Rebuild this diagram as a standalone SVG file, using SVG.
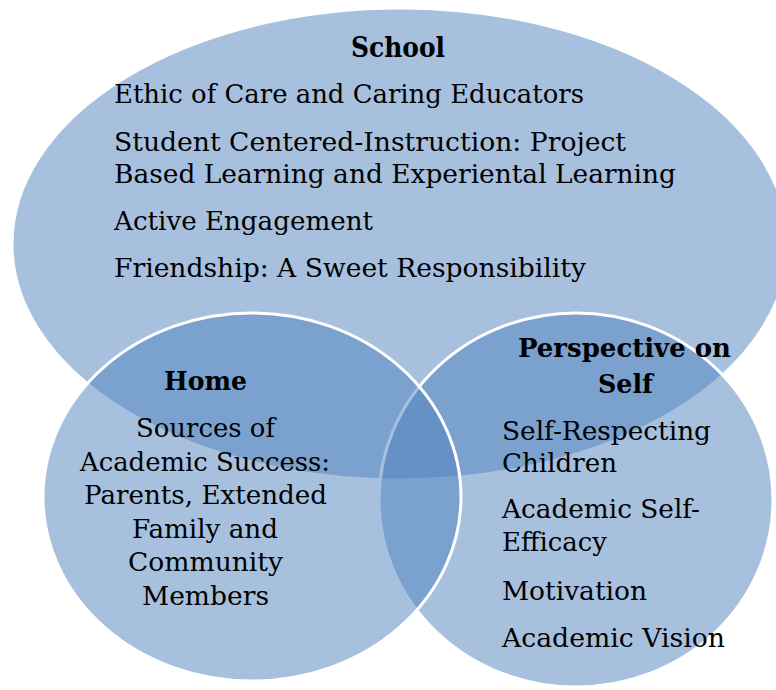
<svg xmlns="http://www.w3.org/2000/svg" width="776" height="690" viewBox="0 0 776 690">
<style>
.set{fill:#4F81BD;fill-opacity:0.5;stroke:#FFFFFF;stroke-width:3}
text{font-family:"DejaVu Serif","Liberation Serif",serif;fill:#000000;font-size:26px}
.title{font-weight:bold;text-anchor:middle}
.mid{text-anchor:middle}
</style>
<rect width="776" height="690" fill="#FFFFFF"/>
<g id="connectors"></g>
<g id="school">
<ellipse class="set" cx="400" cy="244" rx="388" ry="236"/>
</g>
<g id="perspective">
<ellipse class="set" cx="576" cy="500" rx="197" ry="187"/>
</g>
<g id="home">
<ellipse class="set" cx="252" cy="497" rx="209" ry="184"/>
</g>
<g id="school-text">
<text class="title" x="398" y="57" style="font-size:27px" textLength="94" lengthAdjust="spacingAndGlyphs">School</text>
<text x="114" y="103" textLength="470" lengthAdjust="spacingAndGlyphs">Ethic of Care and Caring Educators</text>
<text x="114" y="151" textLength="512" lengthAdjust="spacingAndGlyphs">Student Centered-Instruction: Project</text>
<text x="114" y="183" textLength="562" lengthAdjust="spacingAndGlyphs">Based Learning and Experiental Learning</text>
<text x="114" y="230" textLength="259" lengthAdjust="spacingAndGlyphs">Active Engagement</text>
<text x="114" y="277" textLength="472" lengthAdjust="spacingAndGlyphs">Friendship: A Sweet Responsibility</text>
</g>
<g id="home-text">
<text class="title" x="205.5" y="390" textLength="83" lengthAdjust="spacingAndGlyphs">Home</text>
<text class="mid" x="205.5" y="437" textLength="139" lengthAdjust="spacingAndGlyphs">Sources of</text>
<text class="mid" x="205" y="471" textLength="250" lengthAdjust="spacingAndGlyphs">Academic Success:</text>
<text class="mid" x="205.5" y="504" textLength="243" lengthAdjust="spacingAndGlyphs">Parents, Extended</text>
<text class="mid" x="205" y="538" textLength="146" lengthAdjust="spacingAndGlyphs">Family and</text>
<text class="mid" x="205.5" y="571" textLength="155" lengthAdjust="spacingAndGlyphs">Community</text>
<text class="mid" x="205.5" y="605" textLength="127" lengthAdjust="spacingAndGlyphs">Members</text>
</g>
<g id="perspective-text">
<text class="title" x="624.5" y="357" textLength="213" lengthAdjust="spacingAndGlyphs">Perspective on</text>
<text class="title" x="625.5" y="393" textLength="55" lengthAdjust="spacingAndGlyphs">Self</text>
<text x="502" y="440" textLength="209" lengthAdjust="spacingAndGlyphs">Self-Respecting</text>
<text x="502" y="472" textLength="115" lengthAdjust="spacingAndGlyphs">Children</text>
<text x="502" y="518" textLength="198" lengthAdjust="spacingAndGlyphs">Academic Self-</text>
<text x="502" y="551" textLength="105" lengthAdjust="spacingAndGlyphs">Efficacy</text>
<text x="502" y="600" textLength="145" lengthAdjust="spacingAndGlyphs">Motivation</text>
<text x="502" y="647" textLength="223" lengthAdjust="spacingAndGlyphs">Academic Vision</text>
</g>
</svg>
